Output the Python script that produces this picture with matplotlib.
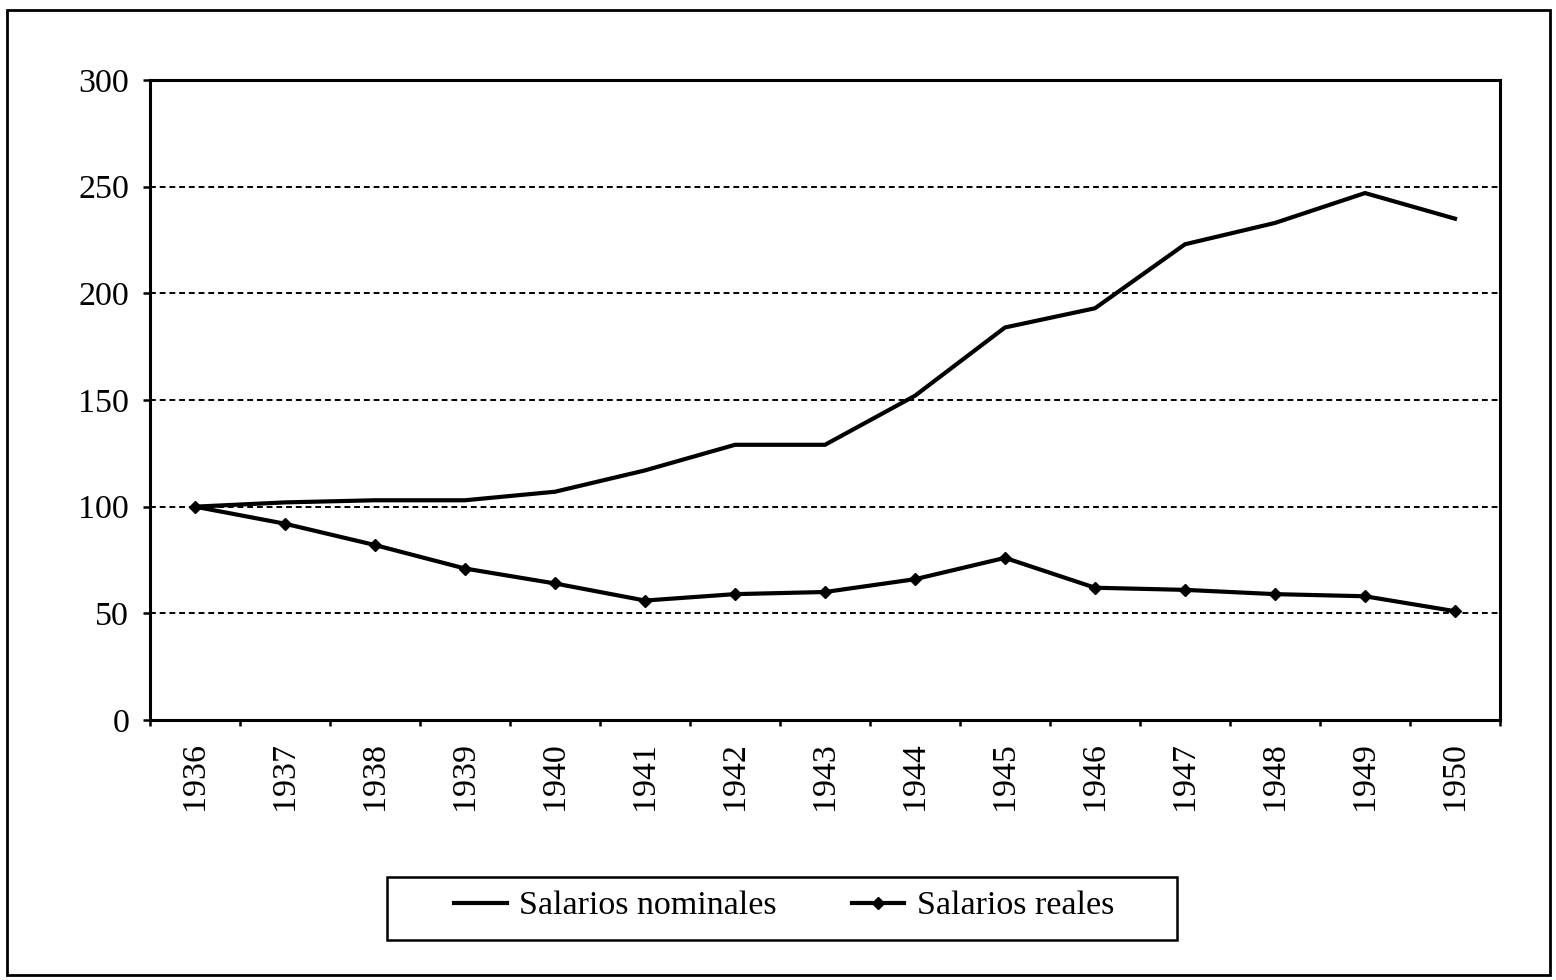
import matplotlib
matplotlib.use("Agg")
import matplotlib.pyplot as plt
from matplotlib.patches import Rectangle
from matplotlib.lines import Line2D
import numpy as np

years = [1936, 1937, 1938, 1939, 1940, 1941, 1942, 1943,
         1944, 1945, 1946, 1947, 1948, 1949, 1950]
salarios_nominales = [100, 102, 103, 103, 107, 117, 129, 129,
                      152, 184, 193, 223, 233, 247, 235]
salarios_reales = [100, 92, 82, 71, 64, 56, 59, 60,
                   66, 76, 62, 61, 59, 58, 51]
y_ticks = [0, 50, 100, 150, 200, 250, 300]

plt.rcParams['font.family'] = ['Liberation Serif', 'DejaVu Serif']

fig = plt.figure(figsize=(15.56, 9.8), dpi=100)
ax = fig.add_axes([150 / 1556, 1 - 720 / 980, 1350 / 1556, 640 / 980])

x = np.arange(len(years)) + 0.5
ax.plot(x, salarios_nominales, color='black', lw=3.0, solid_joinstyle='miter')
ax.plot(x, salarios_reales, color='black', lw=3.0, marker='D', markersize=6,
        solid_joinstyle='miter')

ax.set_xlim(0, len(years))
ax.set_ylim(0, 300)
ax.set_yticks(y_ticks)
ax.set_yticklabels([str(v) for v in y_ticks], fontsize=24.5)

for v in y_ticks[1:-1]:
    ax.axhline(v, color='black', lw=1.4, ls=(0, (3, 2)), zorder=0)

ax.set_xticks(x)
ax.set_xticklabels([str(y) for y in years], rotation=90, fontsize=24.5)
ax.tick_params(axis='x', length=0, pad=16)
ax.set_xticks(np.arange(len(years) + 1), minor=True)
ax.tick_params(axis='x', which='minor', length=4, width=1.8, direction='out')
ax.tick_params(axis='y', length=5, width=1.8, direction='out', pad=10)

for side in ['left', 'bottom', 'top', 'right']:
    ax.spines[side].set_linewidth(2.2)
    ax.spines[side].set_color('black')

handles = [
    Line2D([], [], color='black', lw=3.0),
    Line2D([], [], color='black', lw=3.0, marker='D', markersize=6),
]
leg = fig.legend(handles, ['Salarios nominales', 'Salarios reales'],
                 loc='center', bbox_to_anchor=(784 / 1556, 1 - 906 / 980),
                 ncol=2, fontsize=24.5, frameon=False,
                 handlelength=1.55, handletextpad=0.36,
                 columnspacing=2.2, borderpad=0.3, borderaxespad=0)

# legend box
fig.patches.append(Rectangle((387 / 1556, 1 - 940 / 980), 790 / 1556, 63 / 980,
                             transform=fig.transFigure, fill=False,
                             edgecolor='black', lw=1.8))

# outer frame around the whole figure
fig.patches.append(Rectangle((7 / 1556, 5 / 980), 1543 / 1556, 965 / 980,
                             transform=fig.transFigure, fill=False,
                             edgecolor='black', lw=2.0))

fig.savefig('out.png', dpi=100, facecolor='white')
